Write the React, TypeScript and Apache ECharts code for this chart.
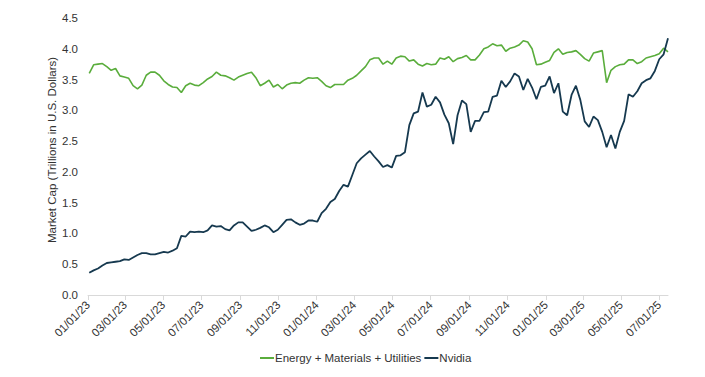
import React, { useEffect, useRef } from "react";
import * as echarts from "echarts";

// Axis range (calendar days) and weekly observation start
const AXIS_START = "2023-01-01";
const AXIS_END = "2025-07-15";
const FIRST_OBS = "2023-01-03";
const OBS_STEP_DAYS = 7;

const seriesNames = ["Energy + Materials + Utilities", "Nvidia"];
const yTicks = [0, 0.5, 1, 1.5, 2, 2.5, 3, 3.5, 4, 4.5];
const yAxisTitle = "Market Cap (Trillions in U.S. Dollars)";

// Market cap, trillions USD, weekly readings
const energyMaterialsUtilities = [
  3.60, 3.74, 3.75, 3.76, 3.71, 3.65, 3.68, 3.56, 3.54, 3.52,
  3.40, 3.35, 3.41, 3.57, 3.62, 3.62, 3.57, 3.48, 3.42, 3.38,
  3.37, 3.29, 3.40, 3.44, 3.41, 3.40, 3.45, 3.51, 3.55, 3.62,
  3.57, 3.56, 3.53, 3.49, 3.54, 3.57, 3.60, 3.62, 3.53, 3.40,
  3.44, 3.49, 3.38, 3.42, 3.35, 3.41, 3.44, 3.45, 3.44, 3.49,
  3.53, 3.52, 3.53, 3.47, 3.40, 3.37, 3.42, 3.42, 3.42, 3.49,
  3.52, 3.57, 3.64, 3.71, 3.82, 3.85, 3.85, 3.75, 3.80, 3.75,
  3.85, 3.88, 3.87, 3.80, 3.82, 3.75, 3.72, 3.76, 3.74, 3.75,
  3.85, 3.83, 3.87, 3.79, 3.84, 3.86, 3.89, 3.82, 3.82, 3.90,
  4.00, 4.03, 4.08, 4.05, 4.06, 3.96, 4.01, 4.03, 4.06, 4.13,
  4.11, 4.00, 3.74, 3.75, 3.78, 3.81, 3.94, 4.00, 3.91, 3.94,
  3.95, 3.97, 3.91, 3.84, 3.80, 3.93, 3.95, 3.97, 3.45, 3.65,
  3.71, 3.74, 3.75, 3.82, 3.82, 3.76, 3.79, 3.85, 3.87, 3.89,
  3.92, 4.01, 3.95,
];

const nvidia = [
  0.36, 0.40, 0.43, 0.48, 0.52, 0.53, 0.54, 0.55, 0.58, 0.57,
  0.61, 0.65, 0.68, 0.68, 0.66, 0.66, 0.68, 0.70, 0.69, 0.72,
  0.76, 0.96, 0.95, 1.03, 1.02, 1.03, 1.02, 1.05, 1.13, 1.11,
  1.12, 1.07, 1.05, 1.13, 1.18, 1.18, 1.11, 1.04, 1.06, 1.09,
  1.13, 1.10, 1.02, 1.06, 1.14, 1.22, 1.23, 1.18, 1.14, 1.16,
  1.21, 1.21, 1.19, 1.33, 1.40, 1.51, 1.56, 1.69, 1.79, 1.76,
  1.95, 2.14, 2.22, 2.28, 2.34, 2.25, 2.17, 2.08, 2.11, 2.07,
  2.26, 2.27, 2.32, 2.76, 2.95, 2.98, 3.29, 3.06, 3.09, 3.22,
  3.13, 2.93, 2.79, 2.45, 2.92, 3.16, 3.10, 2.65, 2.83, 2.83,
  2.97, 2.98, 3.22, 3.24, 3.48, 3.38, 3.47, 3.60, 3.55, 3.33,
  3.51, 3.37, 3.18, 3.38, 3.40, 3.55, 3.28, 3.44, 2.98, 2.92,
  3.25, 3.40, 3.17, 2.82, 2.73, 2.90, 2.84, 2.65, 2.40, 2.60,
  2.38, 2.65, 2.83, 3.26, 3.22, 3.31, 3.44, 3.49, 3.52, 3.64,
  3.83, 3.91, 4.17,
];

const DAY = 86400000;
function toUTC(iso: string) {
  const [y, m, d] = iso.split("-").map(Number);
  return Date.UTC(y, m - 1, d);
}
function iso(t: number) {
  return new Date(t).toISOString().slice(0, 10);
}

export default function App() {
  const ref = useRef<HTMLDivElement>(null);

  useEffect(() => {
    if (!ref.current) return;
    const chart = echarts.init(ref.current, undefined, { renderer: "svg" });

    const days: string[] = [];
    for (let t = toUTC(AXIS_START); t <= toUTC(AXIS_END); t += DAY) days.push(iso(t));
    const obsDates = energyMaterialsUtilities.map((_, i) =>
      iso(toUTC(FIRST_OBS) + i * OBS_STEP_DAYS * DAY)
    );

    const isTickDay = (_i: number, v: string) =>
      v.slice(8) === "01" && Number(v.slice(5, 7)) % 2 === 1;

    const font = "'Liberation Sans', Arial, sans-serif";
    const textColor = "#333333";

    chart.setOption({
      animation: false,
      grid: { left: 88, right: 37, top: 18, bottom: 82 },
      legend: {
        data: seriesNames,
        left: 255,
        top: 347,
        icon: "rect",
        itemWidth: 14,
        itemHeight: 2,
        itemGap: 3,
        textStyle: {
          fontFamily: font,
          fontSize: 11.5,
          color: textColor,
          padding: [0, 0, 0, -4],
        },
      },
      xAxis: {
        type: "category",
        data: days,
        boundaryGap: false,
        axisLine: { lineStyle: { color: "#d9d9d9", width: 1 } },
        axisTick: {
          interval: isTickDay,
          length: 5,
          lineStyle: { color: "#d9d9d9" },
        },
        axisLabel: {
          interval: isTickDay,
          rotate: 45,
          margin: 8,
          fontFamily: font,
          fontSize: 11.5,
          color: textColor,
          formatter: (v: string) => `${v.slice(5, 7)}/${v.slice(8, 10)}/${v.slice(2, 4)}`,
        },
        splitLine: { show: false },
      },
      yAxis: {
        type: "value",
        min: yTicks[0],
        max: yTicks[yTicks.length - 1],
        interval: 0.5,
        axisLine: { show: false },
        axisTick: { show: false },
        splitLine: { show: false },
        axisLabel: {
          margin: 10,
          fontFamily: font,
          fontSize: 11.5,
          color: textColor,
          formatter: (v: number) => v.toFixed(1),
        },
      },
      graphic: [
        {
          type: "text",
          x: 52,
          y: 150,
          rotation: Math.PI / 2,
          style: {
            text: yAxisTitle,
            fontFamily: font,
            fontSize: 11.5,
            fill: textColor,
            align: "center",
            verticalAlign: "middle",
          },
        },
      ],
      series: [
        {
          name: seriesNames[0],
          type: "line",
          showSymbol: false,
          symbol: "none",
          data: obsDates.map((d, i) => [d, energyMaterialsUtilities[i]]),
          lineStyle: { color: "#5aad3c", width: 1.6 },
          itemStyle: { color: "#5aad3c" },
        },
        {
          name: seriesNames[1],
          type: "line",
          showSymbol: false,
          symbol: "none",
          data: obsDates.map((d, i) => [d, nvidia[i]]),
          lineStyle: { color: "#16394f", width: 1.8 },
          itemStyle: { color: "#16394f" },
        },
      ],
    });

    return () => chart.dispose();
  }, []);

  return (
    <div
      ref={ref}
      style={{ position: "fixed", left: 0, top: 0, width: 705, height: 377, background: "#fff" }}
    />
  );
}
